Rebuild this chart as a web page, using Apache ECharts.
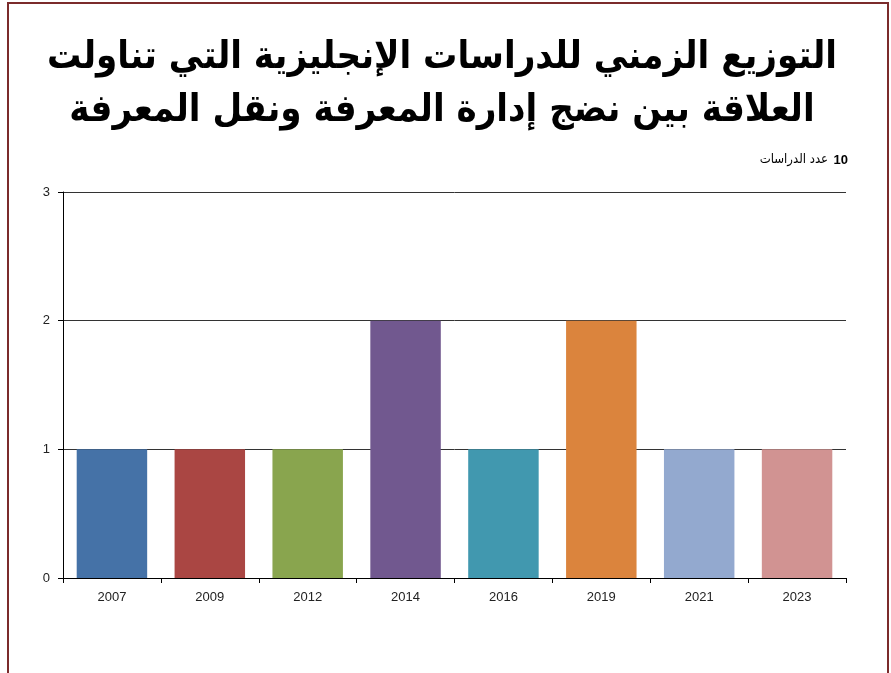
<!DOCTYPE html>
<html>
<head>
<meta charset="utf-8">
<title>التوزيع الزمني</title>
<script src="https://cdn.jsdelivr.net/npm/echarts@6/dist/echarts.min.js"></script>
<style>
  html, body { margin: 0; padding: 0; background: #fff; }
  #chart { width: 891px; height: 673px; }
</style>
</head>
<body>
<div id="chart"></div>
<script>
  // السنوات وعدد الدراسات
  var years = ['2007', '2009', '2012', '2014', '2016', '2019', '2021', '2023'];
  var counts = [1, 1, 1, 2, 1, 2, 1, 1];
  var barColors = ['#4572A7', '#AA4643', '#89A54E', '#71588F', '#4198AF', '#DB843D', '#93A9CF', '#D19392'];
  var yTicks = [0, 1, 2, 3];

  var titleText = 'التوزيع الزمني للدراسات الإنجليزية التي تناولت\nالعلاقة بين نضج إدارة المعرفة ونقل المعرفة';
  var totalLabel = 'عدد الدراسات';
  var totalStudies = 10;

  var myChart = echarts.init(document.getElementById('chart'));

  var option = {
    animation: false,
    title: {
      text: titleText,
      left: 437,
      top: 27,
      textAlign: 'center',
      textStyle: {
        fontFamily: 'DejaVu Sans Condensed, DejaVu Sans, sans-serif',
        fontSize: 38,
        fontWeight: 'bold',
        lineHeight: 53,
        color: '#000'
      }
    },
    graphic: [
      {
        type: 'rect',
        shape: { x: 8, y: 3, width: 880, height: 720 },
        style: { fill: 'none', stroke: '#7b2b2b', lineWidth: 2 },
        silent: true
      },
      {
        type: 'text',
        x: 828, y: 160,
        style: {
          text: totalLabel,
          align: 'right', verticalAlign: 'middle',
          font: '13px "DejaVu Sans Condensed", "DejaVu Sans", sans-serif',
          fill: '#000'
        },
        silent: true
      },
      {
        type: 'text',
        x: 848, y: 160,
        style: {
          text: String(totalStudies),
          align: 'right', verticalAlign: 'middle',
          font: 'bold 13px "Liberation Sans", Arial, sans-serif',
          fill: '#000'
        },
        silent: true
      }
    ],
    grid: { left: 63, right: 45, top: 192, bottom: 95, containLabel: false },
    xAxis: {
      type: 'category',
      data: years,
      axisLine: { lineStyle: { color: '#000', width: 1 } },
      axisTick: { show: true, alignWithLabel: false, length: 5, lineStyle: { color: '#000' } },
      axisLabel: {
        margin: 13,
        fontFamily: 'Liberation Sans, Arial, sans-serif',
        fontSize: 13,
        color: '#222'
      }
    },
    yAxis: {
      type: 'value',
      min: yTicks[0],
      max: yTicks[yTicks.length - 1],
      interval: 1,
      axisLine: { show: true, lineStyle: { color: '#000', width: 1 } },
      axisTick: { show: true, length: 5, lineStyle: { color: '#000' } },
      splitLine: { show: true, lineStyle: { color: '#333', width: 1 } },
      axisLabel: {
        margin: 13,
        fontFamily: 'Liberation Sans, Arial, sans-serif',
        fontSize: 13,
        color: '#222'
      }
    },
    series: [
      {
        type: 'bar',
        barWidth: '72%',
        data: counts.map(function (v, i) {
          return { value: v, itemStyle: { color: barColors[i] } };
        })
      }
    ]
  };

  myChart.setOption(option);
</script>
</body>
</html>
